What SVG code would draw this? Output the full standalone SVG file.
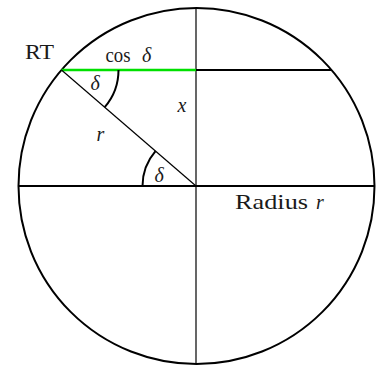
<svg xmlns="http://www.w3.org/2000/svg" width="379" height="365" viewBox="0 0 379 365">
<style>
.thick{stroke:#000;stroke-width:2;fill:none}
.thin{stroke:#000;stroke-width:1.2;fill:none}
.rm{font-family:"Liberation Serif","Times New Roman",serif;fill:#1a1a1a}
.it{font-family:"Liberation Serif","Times New Roman",serif;font-style:italic;fill:#1a1a1a}
</style>
<rect width="379" height="365" fill="#fff"/>
<g id="circle">
<circle class="thick" cx="196.5" cy="186" r="178"/>
</g>
<g id="connectors">
<line class="thin" x1="196" y1="8" x2="196" y2="364"/>
<line class="thick" x1="18.5" y1="186" x2="374.5" y2="186" stroke-width="2.2"/>
<line x1="61.5" y1="70" x2="196" y2="70" stroke="#00e000" stroke-width="2.5"/>
<line class="thick" x1="196" y1="70" x2="331.5" y2="70"/>
<line class="thin" x1="61.5" y1="70" x2="196" y2="186"/>
<path class="thick" d="M 118.5 70 A 57 57 0 0 1 104.7 107.2"/>
<path class="thick" d="M 142.5 186 A 53.5 53.5 0 0 1 155.5 151.1"/>
</g>
<g id="labels">
<text class="rm" x="25" y="59" font-size="20" textLength="29" lengthAdjust="spacingAndGlyphs">RT</text>
<text class="rm" x="105.5" y="62" font-size="20" textLength="25" lengthAdjust="spacingAndGlyphs">cos</text>
<text class="it" x="142" y="62" font-size="20">δ</text>
<text class="it" x="90.5" y="90" font-size="20">δ</text>
<text class="it" x="177.5" y="112" font-size="20">x</text>
<text class="it" x="96.5" y="141" font-size="20">r</text>
<text class="it" x="154.5" y="182" font-size="20">δ</text>
<text class="rm" x="235" y="209" font-size="21" textLength="73" lengthAdjust="spacingAndGlyphs">Radius</text>
<text class="it" x="316" y="209" font-size="20">r</text>
</g>
</svg>
